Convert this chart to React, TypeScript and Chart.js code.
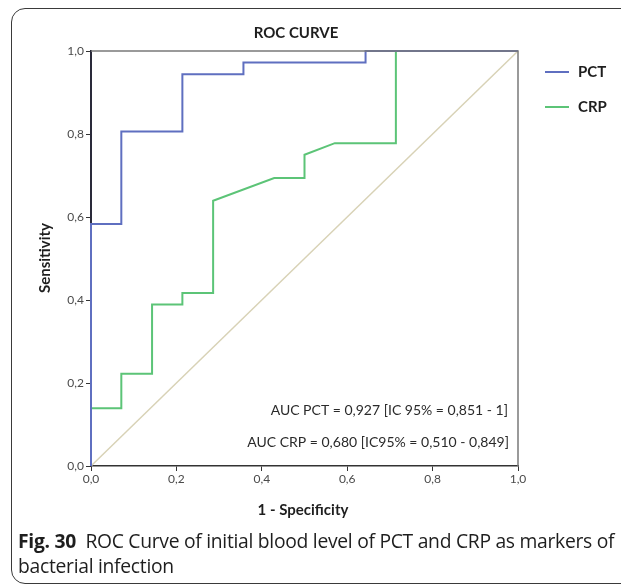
import React, { useEffect, useRef } from "react";
import { Chart, registerables } from "chart.js";

Chart.register(...registerables);

// ROC coordinates (1 - specificity, sensitivity)
const pctFpr = [0, 0, 0.071, 0.071, 0.214, 0.214, 0.357, 0.357, 0.643, 0.643, 1];
const pctTpr = [0, 0.583, 0.583, 0.806, 0.806, 0.944, 0.944, 0.972, 0.972, 1, 1];

const crpFpr = [0, 0, 0.071, 0.071, 0.143, 0.143, 0.214, 0.214, 0.286, 0.286, 0.429, 0.5, 0.5, 0.571, 0.714, 0.714, 1];
const crpTpr = [0, 0.139, 0.139, 0.222, 0.222, 0.389, 0.389, 0.417, 0.417, 0.639, 0.694, 0.694, 0.75, 0.778, 0.778, 1, 1];

const refFpr = [0, 1];
const refTpr = [0, 1];

const seriesNames = ["PCT", "CRP"];
const seriesColors = ["#5f6fc0", "#5cc477"];
const refColor = "#d8d2b6";

const chartTitle = "ROC CURVE";
const xTitle = "1 - Specificity";
const yTitle = "Sensitivity";
const aucLines = [
  "AUC PCT = 0,927 [IC 95% = 0,851 - 1]",
  "AUC CRP = 0,680 [IC95% = 0,510 - 0,849]",
];

const toPoints = (xs: number[], ys: number[]) => xs.map((x, i) => ({ x, y: ys[i] }));

const labelFont = "Lato, 'Open Sans', sans-serif";

const overlay = {
  id: "rocOverlay",
  afterDatasetsDraw(chart: any) {
    const { ctx, chartArea: a } = chart;
    ctx.save();
    // upper and right frame of the plot box
    ctx.strokeStyle = "#7a7a7a";
    ctx.lineWidth = 1.5;
    ctx.beginPath();
    ctx.moveTo(a.left, a.top);
    ctx.lineTo(a.right, a.top);
    ctx.lineTo(a.right, a.bottom);
    ctx.stroke();

    ctx.fillStyle = "#1e1e1e";
    ctx.textBaseline = "middle";

    ctx.font = `bold 15px ${labelFont}`;
    ctx.textAlign = "center";
    ctx.fillText(chartTitle, 296, 33);
    ctx.fillText(xTitle, 303, 510);

    ctx.save();
    ctx.translate(45, 258);
    ctx.rotate(-Math.PI / 2);
    ctx.fillText(yTitle, 0, 0);
    ctx.restore();

    // legend
    const legendY = [72, 107];
    seriesNames.forEach((name, i) => {
      ctx.strokeStyle = seriesColors[i];
      ctx.lineWidth = 2;
      ctx.beginPath();
      ctx.moveTo(545, legendY[i]);
      ctx.lineTo(569, legendY[i]);
      ctx.stroke();
      ctx.fillStyle = "#1e1e1e";
      ctx.textAlign = "left";
      ctx.font = `bold 15px ${labelFont}`;
      ctx.fillText(name, 578, legendY[i]);
    });

    // AUC annotations
    ctx.font = `14px ${labelFont}`;
    ctx.textAlign = "right";
    ctx.fillStyle = "#2a2a2a";
    ctx.fillText(aucLines[0], 508, 410);
    ctx.fillText(aucLines[1], 509, 442);
    ctx.restore();
  },
};

const fmt = (v: number | string) => Number(v).toFixed(1).replace(".", ",");

export default function App() {
  const canvasRef = useRef<HTMLCanvasElement | null>(null);

  useEffect(() => {
    if (!canvasRef.current) return;
    const chart = new Chart(canvasRef.current, {
      type: "scatter",
      data: {
        datasets: [
          {
            label: "Reference",
            data: toPoints(refFpr, refTpr),
            showLine: true,
            borderColor: refColor,
            borderWidth: 1.5,
            pointRadius: 0,
            clip: false as any,
            order: 3,
          },
          {
            label: seriesNames[1],
            data: toPoints(crpFpr, crpTpr),
            showLine: true,
            borderColor: seriesColors[1],
            borderWidth: 2,
            pointRadius: 0,
            clip: false as any,
            order: 2,
          },
          {
            label: seriesNames[0],
            data: toPoints(pctFpr, pctTpr),
            showLine: true,
            borderColor: seriesColors[0],
            borderWidth: 2,
            pointRadius: 0,
            clip: false as any,
            order: 1,
          },
        ],
      },
      options: {
        animation: false,
        responsive: false,
        devicePixelRatio: 1,
        layout: { padding: { top: 51, right: 103, left: 0, bottom: 0 } },
        plugins: { legend: { display: false }, tooltip: { enabled: false }, title: { display: false } },
        scales: {
          x: {
            type: "linear",
            min: 0,
            max: 1,
            afterFit: (s: any) => {
              s.height = 122;
            },
            ticks: {
              stepSize: 0.2,
              callback: (v: any) => fmt(v),
              color: "#4a4a4a",
              font: { family: labelFont, size: 12 },
              padding: 1,
              maxRotation: 0,
            },
            grid: { drawOnChartArea: false, tickLength: 5, color: "#333", tickColor: "#333" },
            border: { color: "#333", width: 1.5 },
          },
          y: {
            type: "linear",
            min: 0,
            max: 1,
            afterFit: (s: any) => {
              s.width = 91;
            },
            ticks: {
              stepSize: 0.2,
              callback: (v: any) => fmt(v),
              color: "#4a4a4a",
              font: { family: labelFont, size: 12 },
              padding: 2,
            },
            grid: { drawOnChartArea: false, tickLength: 5, color: "#333", tickColor: "#333" },
            border: { color: "#2a2a3a", width: 2 },
          },
        },
      },
      plugins: [overlay],
    });
    return () => chart.destroy();
  }, []);

  return (
    <div
      style={{
        position: "absolute",
        left: 0,
        top: 0,
        width: 621,
        height: 588,
        overflow: "hidden",
        background: "#fff",
      }}
    >
      <div
        style={{
          position: "absolute",
          left: 11,
          top: 8,
          width: 660,
          height: 576,
          border: "1.5px solid #3a3a3a",
          borderRadius: 14,
          boxSizing: "border-box",
        }}
      />
      <canvas ref={canvasRef} width={621} height={588} style={{ position: "absolute", left: 0, top: 0 }} />
      <div
        style={{
          position: "absolute",
          left: 18,
          top: 528,
          width: 700,
          fontFamily: "'Open Sans', sans-serif",
          fontSize: 20,
          lineHeight: "25px",
          color: "#1e1e1e",
          whiteSpace: "nowrap",
          transform: "scaleX(0.965)",
          transformOrigin: "left top",
          letterSpacing: "-0.3px",
        }}
      >
        <div>
          <b>Fig. 30</b>&nbsp;&nbsp;ROC Curve of initial blood level of PCT and CRP as markers of
        </div>
        <div>bacterial infection</div>
      </div>
    </div>
  );
}
